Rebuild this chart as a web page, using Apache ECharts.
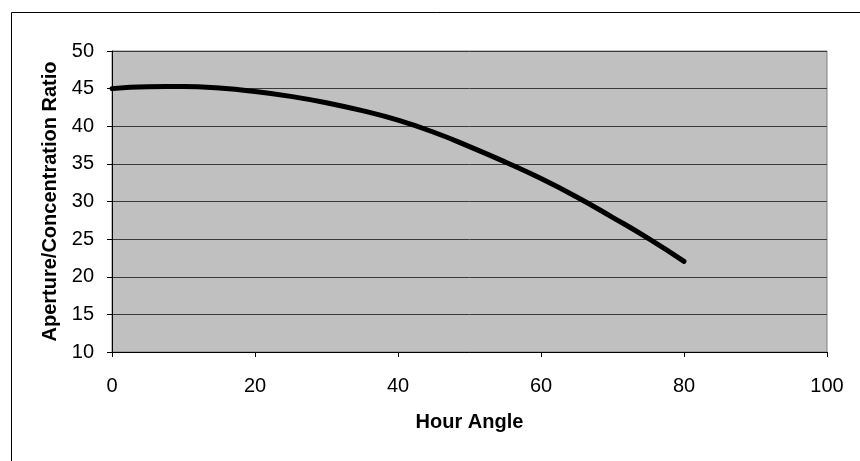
<!DOCTYPE html>
<html>
<head>
<meta charset="utf-8">
<script src="https://cdn.jsdelivr.net/npm/echarts@6/dist/echarts.min.js"></script>
<style>html,body{margin:0;padding:0;background:#fff}#c{width:860px;height:461px}</style>
</head>
<body>
<div id="c"></div>
<script>
var hourAngle = [0, 5, 10, 15, 20, 25, 30, 35, 40, 45, 50, 55, 60, 65, 70, 75, 80];
var ratio = [45.0, 45.25, 45.27, 45.07, 44.62, 43.97, 43.12, 42.07, 40.8, 39.2, 37.3, 35.25, 33.05, 30.6, 27.9, 25.1, 22.05];
var xTicks = [0, 20, 40, 60, 80, 100];
var yTicks = [10, 15, 20, 25, 30, 35, 40, 45, 50];

var chart = echarts.init(document.getElementById('c'), null, {renderer: 'canvas'});
var font = 'Liberation Sans, Arial, sans-serif';
chart.setOption({
  animation: false,
  backgroundColor: '#ffffff',
  graphic: [{
    type: 'rect', left: 9, top: 10, z: -1,
    shape: {x: 0, y: 0, width: 900, height: 500},
    style: {fill: 'none', stroke: '#000', lineWidth: 1}
  }],
  grid: {
    left: 112, right: 33, top: 51, bottom: 109,
    show: true, backgroundColor: '#c0c0c0', borderColor: '#808080', borderWidth: 1
  },
  xAxis: {
    type: 'value', min: xTicks[0], max: xTicks[xTicks.length - 1], interval: 20,
    name: 'Hour Angle', nameLocation: 'middle', nameGap: 60,
    nameTextStyle: {fontFamily: font, fontSize: 20, fontWeight: 'bold', color: '#000'},
    axisLine: {show: true, lineStyle: {color: '#000', width: 1}},
    axisTick: {show: true, length: 5, inside: false, lineStyle: {color: '#000'}},
    axisLabel: {fontFamily: font, fontSize: 20, color: '#000', margin: 24},
    splitLine: {show: false}
  },
  yAxis: {
    type: 'value', min: yTicks[0], max: yTicks[yTicks.length - 1], interval: 5,
    name: 'Aperture/Concentration Ratio', nameLocation: 'middle', nameGap: 52,
    nameTextStyle: {fontFamily: font, fontSize: 20, fontWeight: 'bold', color: '#000'},
    axisLine: {show: true, lineStyle: {color: '#000', width: 1}},
    axisTick: {show: true, length: 5, lineStyle: {color: '#000'}},
    axisLabel: {fontFamily: font, fontSize: 20, color: '#000', margin: 18},
    splitLine: {show: true, lineStyle: {color: '#3a3a3a', width: 1}}
  },
  series: [{
    type: 'line',
    data: hourAngle.map(function (x, i) { return [x, ratio[i]]; }),
    smooth: true,
    showSymbol: false,
    lineStyle: {color: '#000', width: 5, cap: 'round'}
  }]
});
</script>
</body>
</html>
